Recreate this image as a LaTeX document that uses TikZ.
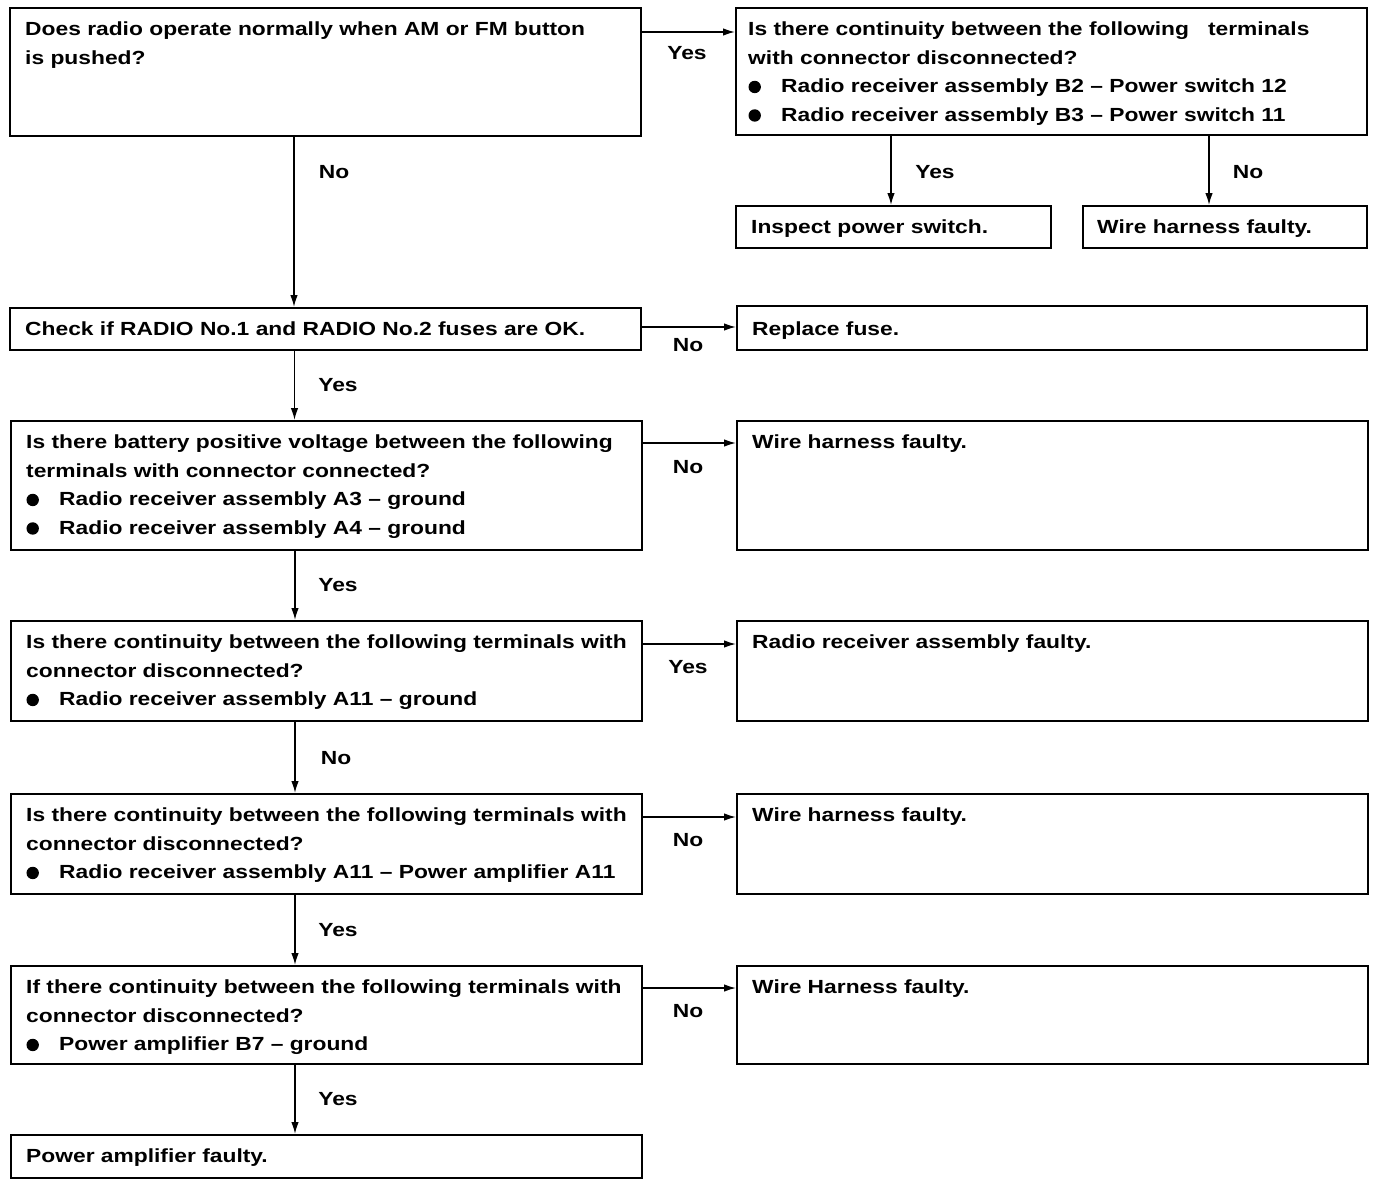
\documentclass[tikz,border=0pt]{standalone}
\usepackage{fontspec}
\setmainfont[FakeStretch=1.2]{Liberation Sans}
\usetikzlibrary{arrows.meta}
\newcommand{\blt}{\makebox[33pt][l]{\tikz[baseline=0pt]{\useasboundingbox (0pt,0pt) rectangle (13pt,12pt);\fill[black] (6.5pt,6pt) circle[radius=6.2pt];}}}
\tikzset{
  box/.style={draw, line width=1.8pt, inner sep=0pt, anchor=north west},
  txt/.style={anchor=north west, inner sep=0pt, align=left, font=\fontsize{19}{28.5}\selectfont\bfseries},
  lbl/.style={inner sep=0pt, font=\fontsize{19}{22}\selectfont\bfseries},
  arr/.style={line width=1.4pt, -{Latex[length=12pt,width=7.5pt]}}
}
\begin{document}
\begin{tikzpicture}[x=1pt,y=-1pt]
\useasboundingbox (0,0) rectangle (1376,1186);
% boxes
\node[box, minimum width=631pt, minimum height=128pt] (b1) at (9,7) {};
\node[box, minimum width=631pt, minimum height=127pt] (b2) at (735,7) {};
\node[box, minimum width=315pt, minimum height=42pt] (insp) at (735,205) {};
\node[box, minimum width=284pt, minimum height=42pt] (wh0) at (1082,205) {};
\node[box, minimum width=631pt, minimum height=42pt] (chk) at (9,307) {};
\node[box, minimum width=630pt, minimum height=44pt] (rep) at (736,305) {};
\node[box, minimum width=631pt, minimum height=129pt] (bat) at (10,420) {};
\node[box, minimum width=631pt, minimum height=129pt] (wh1) at (736,420) {};
\node[box, minimum width=631pt, minimum height=100pt] (c1) at (10,620) {};
\node[box, minimum width=631pt, minimum height=100pt] (rrf) at (736,620) {};
\node[box, minimum width=631pt, minimum height=100pt] (c2) at (10,793) {};
\node[box, minimum width=631pt, minimum height=100pt] (wh2) at (736,793) {};
\node[box, minimum width=631pt, minimum height=98pt] (c3) at (10,965) {};
\node[box, minimum width=631pt, minimum height=98pt] (wh3) at (736,965) {};
\node[box, minimum width=631pt, minimum height=43pt] (paf) at (10,1134) {};
% texts
\node[txt] (t1) at ([shift={(16pt,-15pt)}]b1.north west) {Does radio operate normally when AM or FM button\\is pushed?};
\node[txt] (t2) at ([shift={(13pt,-15pt)}]b2.north west) {Is there continuity between the following \ \ terminals\\with connector disconnected?\\\blt Radio receiver assembly B2 -- Power switch 12\\\blt Radio receiver assembly B3 -- Power switch 11};
\node[txt] (t3) at ([shift={(16pt,-15pt)}]insp.north west) {Inspect power switch.};
\node[txt] (t4) at ([shift={(15pt,-15pt)}]wh0.north west) {Wire harness faulty.};
\node[txt] (t5) at ([shift={(16pt,-15pt)}]chk.north west) {Check if RADIO No.1 and RADIO No.2 fuses are OK.};
\node[txt] (t6) at ([shift={(16pt,-17pt)}]rep.north west) {Replace fuse.};
\node[txt] (t7) at ([shift={(16pt,-15pt)}]bat.north west) {Is there battery positive voltage between the following\\terminals with connector connected?\\\blt Radio receiver assembly A3 -- ground\\\blt Radio receiver assembly A4 -- ground};
\node[txt] (t8) at ([shift={(16pt,-15pt)}]wh1.north west) {Wire harness faulty.};
\node[txt] (t9) at ([shift={(16pt,-15pt)}]c1.north west) {Is there continuity between the following terminals with\\connector disconnected?\\\blt Radio receiver assembly A11 -- ground};
\node[txt] (t10) at ([shift={(16pt,-15pt)}]rrf.north west) {Radio receiver assembly faulty.};
\node[txt] (t11) at ([shift={(16pt,-15pt)}]c2.north west) {Is there continuity between the following terminals with\\connector disconnected?\\\blt Radio receiver assembly A11 -- Power amplifier A11};
\node[txt] (t12) at ([shift={(16pt,-15pt)}]wh2.north west) {Wire harness faulty.};
\node[txt] (t13) at ([shift={(16pt,-15pt)}]c3.north west) {If there continuity between the following terminals with\\connector disconnected?\\\blt Power amplifier B7 -- ground};
\node[txt] (t14) at ([shift={(16pt,-15pt)}]wh3.north west) {Wire Harness faulty.};
\node[txt] (t15) at ([shift={(16pt,-15pt)}]paf.north west) {Power amplifier faulty.};
% connectors
\draw[arr] ([yshift=-25pt]b1.north east) -- ([yshift=-25pt]b1.north east -| b2.west);
\draw[arr] ([xshift=156pt]b2.south west) -- ([xshift=156pt]b2.south west |- insp.north);
\draw[arr] ([xshift=127pt]wh0.north west |- b2.south) -- ([xshift=127pt]wh0.north west);
\draw[arr] ([xshift=285pt]b1.south west) -- ([xshift=285pt]b1.south west |- chk.north);
\draw[arr] ([yshift=-20pt]chk.north east) -- ([yshift=-20pt]chk.north east -| rep.west);
\draw[arr] ([xshift=285.5pt]chk.south west) -- ([xshift=285.5pt]chk.south west |- bat.north);
\draw[arr] ([yshift=-23pt]bat.north east) -- ([yshift=-23pt]bat.north east -| wh1.west);
\draw[arr] ([xshift=285pt]bat.south west) -- ([xshift=285pt]bat.south west |- c1.north);
\draw[arr] ([yshift=-24pt]c1.north east) -- ([yshift=-24pt]c1.north east -| rrf.west);
\draw[arr] ([xshift=285pt]c1.south west) -- ([xshift=285pt]c1.south west |- c2.north);
\draw[arr] ([yshift=-24pt]c2.north east) -- ([yshift=-24pt]c2.north east -| wh2.west);
\draw[arr] ([xshift=285pt]c2.south west) -- ([xshift=285pt]c2.south west |- c3.north);
\draw[arr] ([yshift=-23pt]c3.north east) -- ([yshift=-23pt]c3.north east -| wh3.west);
\draw[arr] ([xshift=285pt]c3.south west) -- ([xshift=285pt]c3.south west |- paf.north);
% labels
\node[lbl] (l1) at (687,53) {Yes};
\node[lbl] (l2) at (935,172) {Yes};
\node[lbl] (l3) at (1248,172) {No};
\node[lbl] (l4) at (334,172) {No};
\node[lbl] (l5) at (688,345) {No};
\node[lbl] (l6) at (338,385) {Yes};
\node[lbl] (l7) at (688,467) {No};
\node[lbl] (l8) at (338,585) {Yes};
\node[lbl] (l9) at (688,667) {Yes};
\node[lbl] (l10) at (336,758) {No};
\node[lbl] (l11) at (688,840) {No};
\node[lbl] (l12) at (338,930) {Yes};
\node[lbl] (l13) at (688,1011) {No};
\node[lbl] (l14) at (338,1099) {Yes};
\end{tikzpicture}
\end{document}
